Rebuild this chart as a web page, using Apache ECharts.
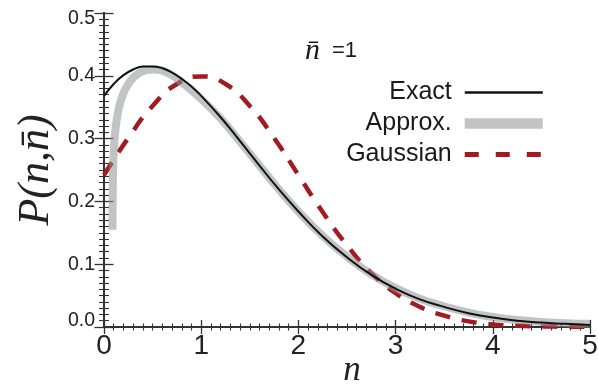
<!DOCTYPE html>
<html>
<head>
<meta charset="utf-8">
<script src="https://cdn.jsdelivr.net/npm/echarts@6/dist/echarts.min.js"></script>
<style>html,body{margin:0;padding:0;background:#fff}#c{width:598px;height:389px}</style>
</head>
<body>
<div id="c"></div>
<script>
// Exact curve (black)
const exactX = [0, 0.1, 0.2, 0.3, 0.4, 0.5, 0.6, 0.7, 0.8, 0.9, 1.0, 1.2, 1.4, 1.6, 1.8, 2.0, 2.25, 2.5, 2.75, 3.0, 3.25, 3.5, 3.75, 4.0, 4.25, 4.5, 4.75, 5.0];
const exactY = [0.368, 0.387, 0.401, 0.410, 0.415, 0.415, 0.412, 0.405, 0.395, 0.383, 0.368, 0.334, 0.296, 0.257, 0.219, 0.184, 0.144, 0.111, 0.083, 0.061, 0.044, 0.032, 0.022, 0.015, 0.010, 0.007, 0.005, 0.003];
// Approx. curve (grey)
const approxX = [0.087, 0.090, 0.095, 0.105, 0.118, 0.142, 0.187, 0.255, 0.358, 0.51, 0.65, 0.786, 0.958, 1.2, 1.4, 1.6, 1.8, 2.0, 2.25, 2.5, 2.75, 3.0, 3.25, 3.5, 3.75, 4.0, 4.25, 4.5, 4.75, 5.0];
const approxY = [0.155, 0.21, 0.26, 0.29, 0.314, 0.340, 0.367, 0.388, 0.404, 0.410, 0.405, 0.391, 0.369, 0.332, 0.295, 0.257, 0.219, 0.184, 0.145, 0.112, 0.084, 0.062, 0.045, 0.033, 0.023, 0.016, 0.011, 0.008, 0.006, 0.005];
// Gaussian curve (red dashed)
const gaussX = [0, 0.25, 0.5, 0.75, 1.0, 1.25, 1.5, 1.75, 2.0, 2.25, 2.5, 2.75, 3.0, 3.25, 3.5, 3.75, 4.0, 4.25, 4.5, 4.75, 5.0];
const gaussY = [0.242, 0.301, 0.352, 0.387, 0.399, 0.387, 0.352, 0.301, 0.242, 0.183, 0.130, 0.086, 0.054, 0.032, 0.018, 0.009, 0.004, 0.002, 0.001, 0.0004, 0.0001];
const seriesNames = ['Exact', 'Approx.', 'Gaussian'];
const xTickValues = [0, 1, 2, 3, 4, 5];
const yTickValues = [0.0, 0.1, 0.2, 0.3, 0.4, 0.5];

const zip = (xs, ys) => xs.map((x, i) => [x, ys[i]]);
const axisCol = '#333';
const sans = 'Liberation Sans';
const serif = 'Liberation Serif';

const chart = echarts.init(document.getElementById('c'), null, {renderer: 'canvas'});
const xBase = {
  type: 'value', min: xTickValues[0], max: xTickValues[xTickValues.length - 1], interval: 1,
  axisLine: {show: true, lineStyle: {color: axisCol, width: 2}},
  axisTick: {show: true, inside: true, length: 7, lineStyle: {color: axisCol, width: 1.3}},
  minorTick: {show: true, splitNumber: 10, length: 3.5, lineStyle: {color: axisCol, width: 1.1}},
  splitLine: {show: false}
};
const yBase = {
  type: 'value', min: yTickValues[0], max: yTickValues[yTickValues.length - 1], interval: 0.1,
  axisLine: {show: true, lineStyle: {color: axisCol, width: 2}},
  axisTick: {show: true, inside: true, length: 9.5, lineStyle: {color: axisCol, width: 1.3}},
  minorTick: {show: true, splitNumber: 10, length: 5, lineStyle: {color: axisCol, width: 1.1}},
  splitLine: {show: false}
};

chart.setOption({
  animation: false,
  grid: {left: 104, right: 8, top: 13, bottom: 62, outerBoundsMode: 'none', containLabel: false},
  xAxis: [
    Object.assign({}, xBase, {
      position: 'bottom',
      axisLabel: {show: true, fontSize: 28, fontFamily: sans, color: '#222', margin: 5},
      name: 'n', nameLocation: 'middle', nameGap: 26, nameMoveOverlap: false,
      nameTextStyle: {fontFamily: serif, fontStyle: 'italic', fontSize: 35, color: '#222', padding: [0, 0, 0, 10]}
    }),
    Object.assign({}, xBase, {position: 'top', axisLabel: {show: false}})
  ],
  yAxis: [
    Object.assign({}, yBase, {
      position: 'left',
      axisLabel: {
        show: true, fontSize: 19.5, fontFamily: sans, color: '#222', margin: 9,
        formatter: v => {
          const s = v.toFixed(1);
          if (Math.abs(v - 0.5) < 1e-9) return '{t|' + s + '}';
          if (Math.abs(v) < 1e-9) return '{b|' + s + '}';
          return s;
        },
        rich: {
          t: {fontSize: 19.5, fontFamily: sans, color: '#222', padding: [12, 0, 0, 0]},
          b: {fontSize: 19.5, fontFamily: sans, color: '#222', padding: [0, 0, 12, 0]}
        }
      },
      name: 'P(n,n\u0304)', nameLocation: 'middle', nameGap: 46, nameRotate: 90, nameMoveOverlap: false,
      nameTextStyle: {fontFamily: serif, fontStyle: 'italic', fontSize: 44, color: '#222'}
    }),
    Object.assign({}, yBase, {position: 'right', axisLabel: {show: false}})
  ],
  legend: {
    orient: 'vertical', align: 'right', right: 45, top: 75,
    itemWidth: 78, itemHeight: 10, itemGap: 6,
    itemStyle: {opacity: 0},
    textStyle: {fontSize: 25, fontFamily: sans, color: '#1a1a1a', lineHeight: 25, padding: [0, 8, 0, 0]},
    data: [
      {name: seriesNames[0], lineStyle: {width: 2.6}},
      {name: seriesNames[1], lineStyle: {width: 10.5}},
      {name: seriesNames[2], lineStyle: {width: 5, type: [14, 17]}}
    ]
  },
  graphic: [{
    type: 'text', left: 305, top: 36,
    style: {
      text: '{a|n\u0304}{b|=1}',
      rich: {
        a: {fontFamily: serif, fontStyle: 'italic', fontSize: 30, fill: '#1a1a1a'},
        b: {fontFamily: sans, fontSize: 22, fill: '#1a1a1a', padding: [0, 0, 0, 12]}
      }
    }
  }],
  series: [
    {
      name: seriesNames[2], type: 'line', symbol: 'none', showSymbol: false, smooth: true, z: 2,
      data: zip(gaussX, gaussY),
      lineStyle: {color: '#a01c22', width: 4.5, type: [15, 12]},
      itemStyle: {color: '#a01c22'}
    },
    {
      name: seriesNames[1], type: 'line', symbol: 'none', showSymbol: false, smooth: true, z: 3,
      data: zip(approxX, approxY),
      lineStyle: {color: 'rgba(144,145,148,0.55)', width: 8, cap: 'butt'},
      itemStyle: {color: 'rgb(192,193,195)'}
    },
    {
      name: seriesNames[0], type: 'line', symbol: 'none', showSymbol: false, smooth: true, z: 4,
      data: zip(exactX, exactY),
      lineStyle: {color: '#111', width: 2},
      itemStyle: {color: '#111'}
    }
  ]
});
</script>
</body>
</html>
